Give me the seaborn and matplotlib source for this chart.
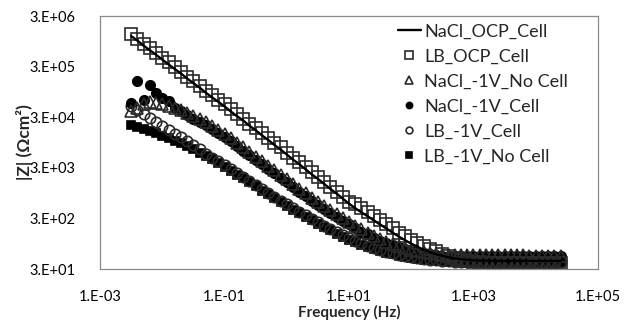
import numpy as np
import pandas as pd
import matplotlib
matplotlib.use("Agg")
import matplotlib.pyplot as plt
from matplotlib.ticker import FixedLocator, FixedFormatter, NullFormatter
import seaborn as sns

# frequency points (Hz), 10 per decade
freq = [0.00316, 0.00398, 0.00501, 0.00631, 0.00794,
        0.0100, 0.0126, 0.0158, 0.0200, 0.0251, 0.0316, 0.0398, 0.0501, 0.0631, 0.0794,
        0.100, 0.126, 0.158, 0.200, 0.251, 0.316, 0.398, 0.501, 0.631, 0.794,
        1.00, 1.26, 1.58, 2.00, 2.51, 3.16, 3.98, 5.01, 6.31, 7.94,
        10.0, 12.6, 15.8, 20.0, 25.1, 31.6, 39.8, 50.1, 63.1, 79.4,
        100, 126, 158, 200, 251, 316, 398, 501, 631, 794,
        1000, 1260, 1580, 2000, 2510, 3160, 3980, 5010, 6310, 7940,
        10000, 12600, 15800, 20000, 25100]

# |Z| in Ohm cm2
nacl_ocp_cell = [1.20e6, 9.77e5, 7.76e5, 6.31e5, 5.13e5,
                 4.12e5, 3.31e5, 2.69e5, 2.19e5, 1.74e5, 1.41e5, 1.15e5, 9.12e4, 7.41e4, 6.03e4,
                 4.90e4, 3.89e4, 3.16e4, 2.57e4, 2.04e4, 1.66e4, 1.32e4, 1.07e4, 8510, 6920,
                 5500, 4370, 3550, 2820, 2240, 1820, 1450, 1150, 933, 741,
                 589, 479, 398, 331, 275, 229, 191, 158, 132, 112,
                 95.5, 83.2, 72.4, 64.6, 58.9, 55.0, 51.3, 49.0, 46.8, 45.7,
                 44.7, 44.2, 44.0, 43.8, 43.7, 43.6, 43.6, 43.5, 43.5, 43.4,
                 43.4, 43.4, 43.3, 43.3, 43.3]

lb_ocp_cell = [1.32e6, 1.07e6, 8.51e5, 6.92e5, 5.62e5,
               4.52e5, 3.63e5, 2.95e5, 2.40e5, 1.91e5, 1.55e5, 1.26e5, 1.00e5, 8.13e4, 6.61e4,
               5.37e4, 4.27e4, 3.47e4, 2.82e4, 2.24e4, 1.82e4, 1.45e4, 1.17e4, 9330, 7590,
               6030, 4790, 3890, 3090, 2450, 2000, 1590, 1260, 1020, 813,
               646, 575, 479, 398, 331, 275, 229, 191, 158, 135,
               115, 100, 87.1, 75.9, 67.6, 60.3, 53.7, 49.0, 45.7, 43.7,
               41.7, 40.7, 40.0, 39.8, 39.8, 39.6, 39.6, 39.5, 39.5, 39.4,
               39.4, 39.4, 39.3, 39.3, 39.3]

nacl_1v_nocell = [3.98e4, 4.57e4, 5.50e4, 6.03e4, 5.75e4,
                  5.50e4, 5.01e4, 4.57e4, 4.17e4, 3.72e4, 3.24e4, 2.82e4, 2.40e4, 2.04e4, 1.70e4,
                  1.41e4, 1.15e4, 9330, 7590, 6170, 5010, 4070, 3310, 2690, 2190,
                  1780, 1450, 1170, 955, 776, 631, 525, 437, 363, 302,
                  251, 214, 182, 155, 135, 117, 105, 93.3, 85.1, 77.6,
                  72.4, 67.6, 64.6, 61.7, 58.9, 57.5, 56.6, 56.4, 56.2, 56.2,
                  56.0, 56.0, 56.0, 55.9, 55.9, 55.8, 55.8, 55.8, 55.8, 55.7,
                  55.7, 55.7, 55.7, 55.7, 55.6]

nacl_1v_cell = [5.75e4, 1.55e5, 6.61e4, 1.29e5, 8.91e4,
                7.24e4, 6.31e4, 4.57e4, 3.98e4, 3.31e4, 2.82e4, 2.45e4, 2.09e4, 1.78e4, 1.48e4,
                1.23e4, 1.00e4, 8130, 6610, 5370, 4370, 3550, 2880, 2340, 1910,
                1550, 1260, 1020, 832, 676, 562, 468, 389, 324, 269,
                229, 195, 166, 145, 126, 110, 97.7, 89.1, 81.3, 74.1,
                69.2, 64.6, 61.7, 58.9, 56.2, 55.0, 54.2, 54.0, 53.9, 53.8,
                53.7, 53.7, 53.6, 53.6, 53.6, 53.5, 53.5, 53.5, 53.5, 53.4,
                53.4, 53.4, 53.4, 53.4, 53.3]

lb_1v_cell = [5.01e4, 4.17e4, 3.47e4, 2.88e4, 2.45e4,
              2.04e4, 1.70e4, 1.41e4, 1.20e4, 1.00e4, 8320, 6920, 5750, 4790, 4070,
              3390, 2820, 2340, 2000, 1660, 1380, 1150, 977, 813, 676,
              575, 479, 407, 347, 295, 251, 214, 186, 162, 141,
              123, 110, 97.7, 87.1, 79.4, 72.4, 66.1, 61.7, 57.5, 53.7,
              51.3, 49.0, 46.8, 45.7, 44.7, 43.7, 42.7, 41.9, 41.7, 41.6,
              41.5, 41.5, 41.4, 41.4, 41.4, 41.3, 41.3, 41.3, 41.3, 41.2,
              41.2, 41.2, 41.2, 41.2, 41.2]

lb_1v_nocell = [2.09e4, 1.95e4, 1.78e4, 1.62e4, 1.45e4,
                1.29e4, 1.15e4, 1.02e4, 9120, 7940, 6920, 6030, 5250, 4470, 3800,
                3160, 2630, 2190, 1860, 1550, 1290, 1070, 912, 759, 631,
                537, 447, 380, 324, 275, 234, 200, 174, 151, 132,
                115, 102, 91.2, 83.2, 75.9, 69.2, 63.1, 58.9, 55.0, 52.5,
                50.1, 47.9, 45.7, 44.7, 43.7, 42.7, 41.7, 40.7, 40.7, 40.6,
                40.6, 40.5, 40.5, 40.5, 40.4, 40.4, 40.4, 40.4, 40.3, 40.3,
                40.3, 40.3, 40.3, 40.3, 40.3]

labels = ["NaCl_OCP_Cell", "LB_OCP_Cell", "NaCl_-1V_No Cell",
          "NaCl_-1V_Cell", "LB_-1V_Cell", "LB_-1V_No Cell"]

x_ticks = [1e-3, 1e-1, 1e1, 1e3, 1e5]
x_tick_labels = ["1.E-03", "1.E-01", "1.E+01", "1.E+03", "1.E+05"]
y_ticks = [3e1, 3e2, 3e3, 3e4, 3e5, 3e6]
y_tick_labels = ["3.E+01", "3.E+02", "3.E+03", "3.E+04", "3.E+05", "3.E+06"]

sns.set_style("white")
plt.rcParams["font.family"] = ["Lato", "DejaVu Sans"]

fig = plt.figure(figsize=(6.3, 3.2), dpi=100)
ax = fig.add_axes([0.159, 0.159, 0.79, 0.791])

df = pd.DataFrame({"freq": freq, labels[0]: nacl_ocp_cell, labels[1]: lb_ocp_cell,
                   labels[2]: nacl_1v_nocell, labels[3]: nacl_1v_cell,
                   labels[4]: lb_1v_cell, labels[5]: lb_1v_nocell})

# marker series: marker, size, filled
styles = {
    labels[5]: ("s", 6.0, True),
    labels[4]: ("o", 7.5, False),
    labels[3]: ("o", 6.8, True),
    labels[2]: ("^", 8.0, False),
    labels[1]: ("s", 8.5, False),
}
for lab, (m, ms, filled) in styles.items():
    sns.lineplot(data=df, x="freq", y=lab, ax=ax, errorbar=None, label=lab,
                 linestyle="", marker=m, markersize=ms,
                 markerfacecolor="black" if filled else "none",
                 markeredgecolor="black" if filled else "#2a2a2a",
                 markeredgewidth=1.2, color="black")

sns.lineplot(data=df, x="freq", y=labels[0], ax=ax, errorbar=None, label=labels[0],
             color="black", linewidth=1.7)

ax.set_xscale("log")
ax.set_yscale("log")
ax.set_xlim(1e-3, 1e5)
ax.set_ylim(3e1, 3e6)

ax.xaxis.set_major_locator(FixedLocator(x_ticks))
ax.xaxis.set_major_formatter(FixedFormatter(x_tick_labels))
ax.xaxis.set_minor_locator(FixedLocator([k * 10.0 ** n for n in (-2, 0, 2, 4) for k in range(1, 10)]))
ax.xaxis.set_minor_formatter(NullFormatter())
ax.yaxis.set_major_locator(FixedLocator(y_ticks))
ax.yaxis.set_major_formatter(FixedFormatter(y_tick_labels))
ax.yaxis.set_minor_locator(FixedLocator([k * 3 * 10.0 ** n for n in range(1, 6) for k in range(2, 10)]))
ax.yaxis.set_minor_formatter(NullFormatter())

grey = "#8a8a8a"
for s in ax.spines.values():
    s.set_color(grey)
    s.set_linewidth(0.9)
ax.tick_params(axis="both", which="both", direction="out", color=grey, width=0.8,
               labelsize=10.5, labelcolor="black")
ax.tick_params(axis="x", which="major", length=5, pad=10)
ax.tick_params(axis="x", which="minor", length=4)
ax.tick_params(axis="y", which="major", length=5, pad=13)
ax.tick_params(axis="y", which="minor", length=3)

ax.set_xlabel("Frequency (Hz)", fontsize=11, fontweight="bold")
ax.set_ylabel("|Z| (\u03a9cm\u00b2)", fontsize=12.5, fontweight="bold")
ax.xaxis.set_label_coords(0.5, -0.14)
ax.yaxis.set_label_coords(-0.135, 0.5)

handles, labs = ax.get_legend_handles_labels()
order = [labs.index(l) for l in labels]
ax.legend([handles[i] for i in order], labels, loc="upper left",
          bbox_to_anchor=(0.617, 0.955), bbox_transform=fig.transFigure,
          frameon=False, fontsize=13, handlelength=1.3, handletextpad=0.15,
          labelspacing=0.5, markerscale=0.65, borderpad=0)

fig.savefig("out.png", dpi=100)
